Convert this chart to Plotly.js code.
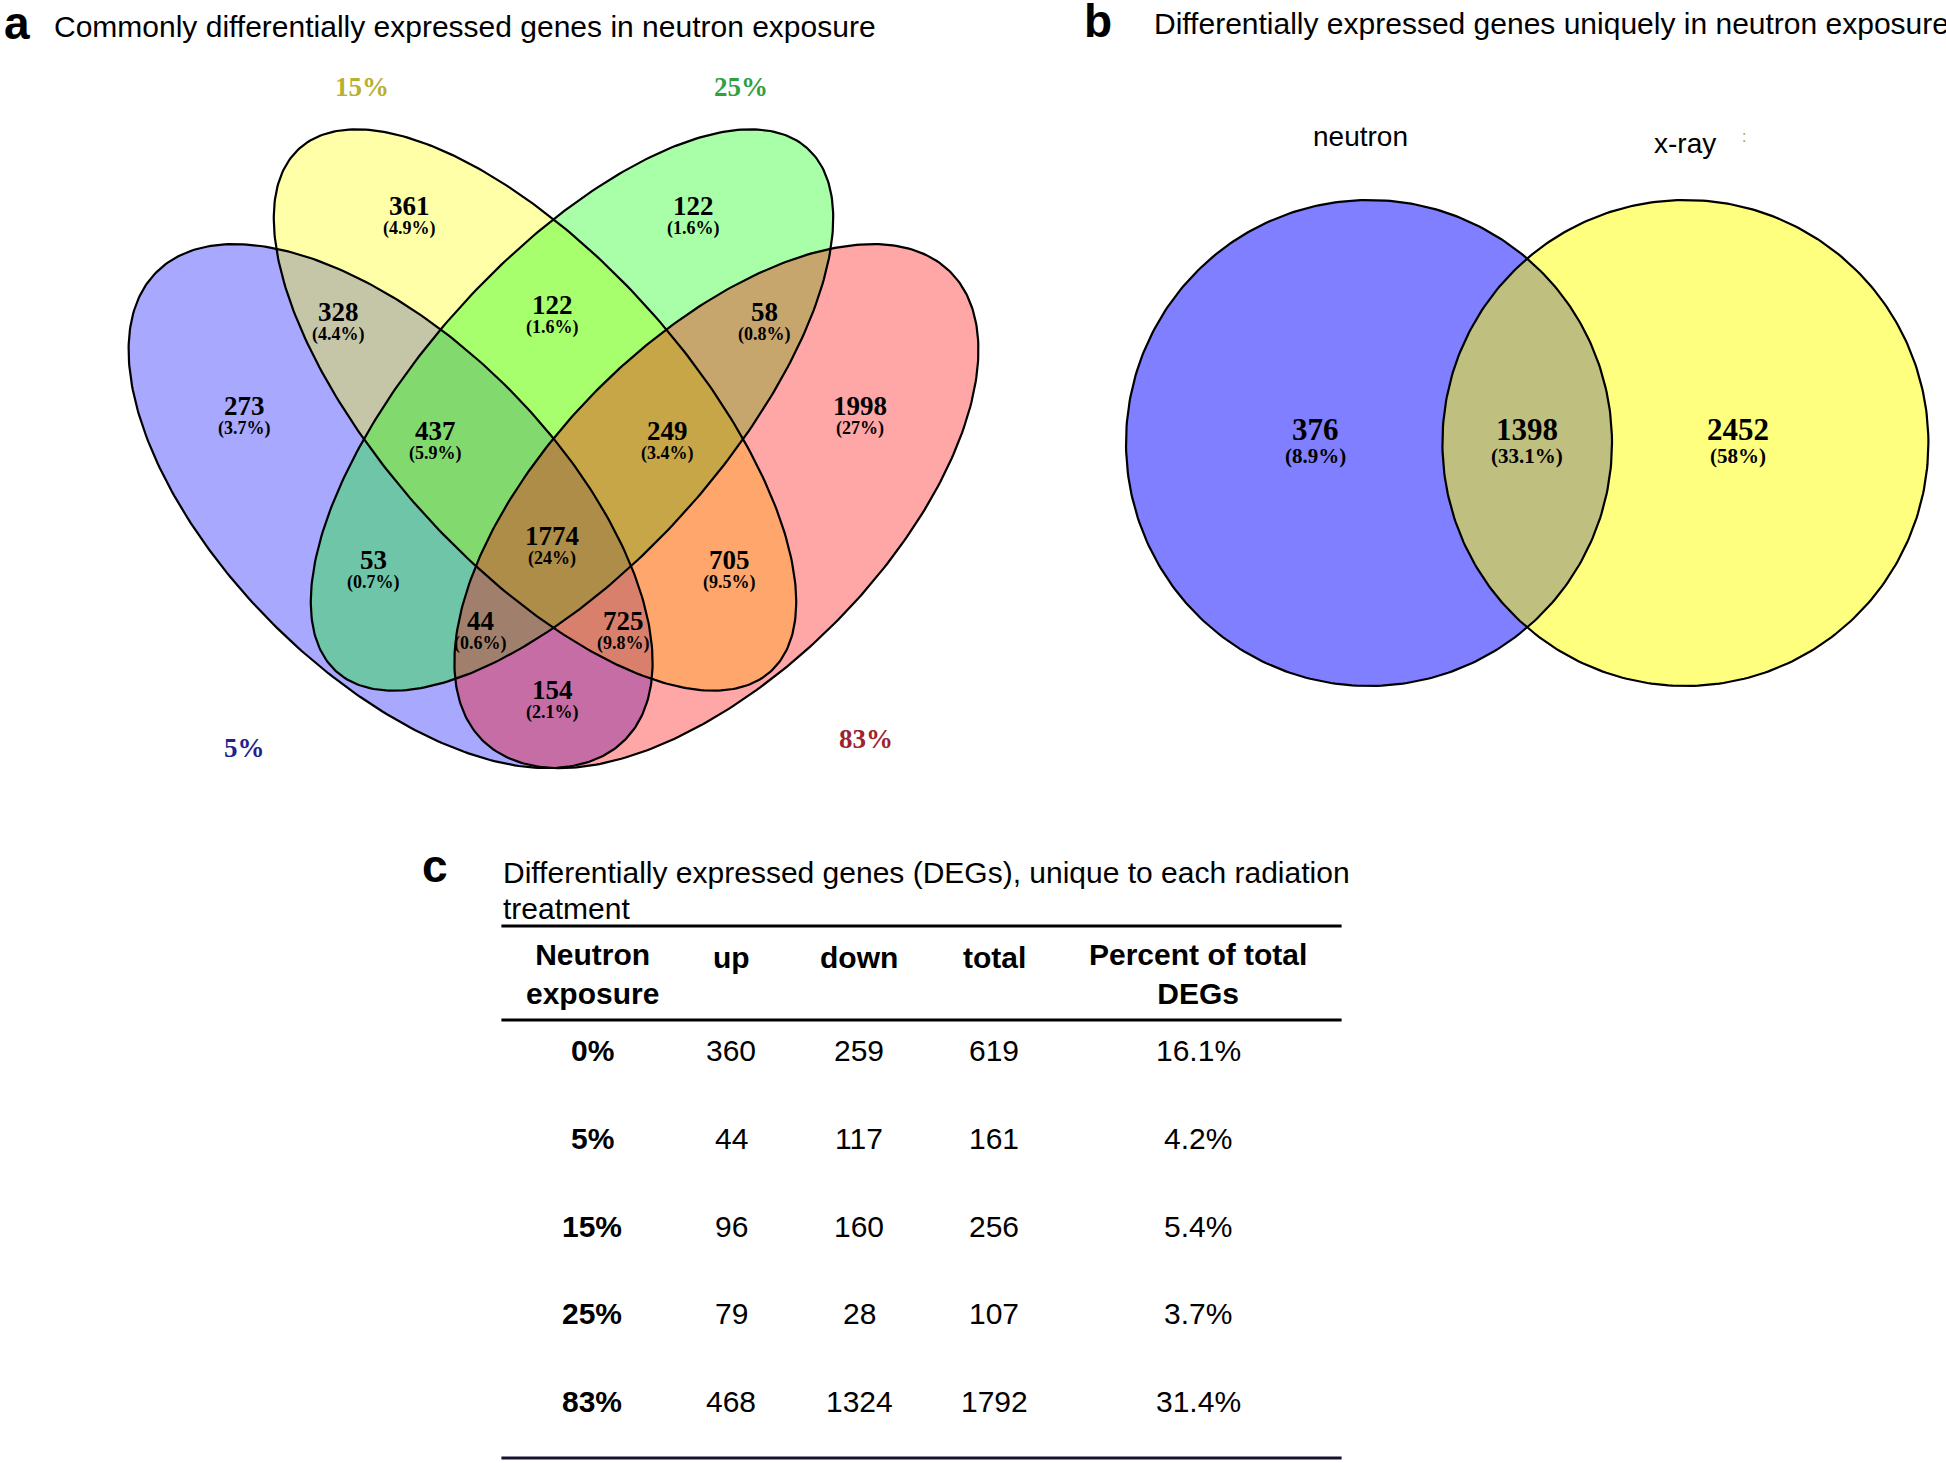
<!DOCTYPE html>
<html><head><meta charset="utf-8">
<script src="https://cdn.plot.ly/plotly-3.0.1.min.js"></script>
<style>html,body{margin:0;padding:0;background:#fff;} #chart{width:1946px;height:1463px;}</style>
</head><body><div id="chart"></div>
<script>
// ---------- DATA ----------
// Panel a: four-set Venn (neutron exposure levels)
const setNames = ['5%', '15%', '25%', '83%'];
const regionCounts = [361, 122, 328, 122, 58, 273, 437, 249, 1998, 1774, 53, 705, 44, 725, 154];
const regionPercents = ['4.9%', '1.6%', '4.4%', '1.6%', '0.8%', '3.7%', '5.9%', '3.4%', '27%', '24%', '0.7%', '9.5%', '0.6%', '9.8%', '2.1%'];
// Panel b: two-set Venn
const bSetNames = ['neutron', 'x-ray'];
const bCounts = [376, 1398, 2452];
const bPercents = ['8.9%', '33.1%', '58%'];
// Panel c: table
const tableHeaders = ['Neutron<br>exposure', 'up', 'down', 'total', 'Percent of total<br>DEGs'];
const exposure = ['0%', '5%', '15%', '25%', '83%'];
const upCounts = [360, 44, 96, 79, 468];
const downCounts = [259, 117, 160, 28, 1324];
const totalCounts = [619, 161, 256, 107, 1792];
const percentTotal = ['16.1%', '4.2%', '5.4%', '3.7%', '31.4%'];
// Titles
const titleA = 'Commonly differentially expressed genes in neutron exposure';
const titleB = 'Differentially expressed genes uniquely in neutron exposure';
const titleC1 = 'Differentially expressed genes (DEGs), unique to each radiation';
const titleC2 = 'treatment';

// ---------- GEOMETRY / STYLE ----------
const W = 1946, H = 1463;
const ellipsesA = [
  {cx: 390.6, cy: 506.1, a: 331, b: 166.5, deg: 45, fill: 'rgba(0,0,255,0.34)'},
  {cx: 535, cy: 410, a: 352, b: 152, deg: 48, fill: 'rgba(255,255,0,0.34)'},
  {cx: 572, cy: 410, a: 352, b: 152, deg: -48, fill: 'rgba(0,255,0,0.34)'},
  {cx: 716.4, cy: 506.1, a: 331, b: 166.5, deg: -45, fill: 'rgba(255,0,0,0.35)'}
];
const circlesB = [
  {cx: 1369, cy: 443, r: 243, fill: 'rgba(0,0,255,0.5)'},
  {cx: 1685.4, cy: 443, r: 243, fill: 'rgba(255,255,0,0.5)'}
];
const regionPos = [[409.6,206],[693.8,206],[338.8,311.5],[552.3,305.3],[764.5,311.5],[244.5,405.8],[435.6,430.7],[667.7,430.7],[860.1,405.8],[552.3,536.2],[373.6,559.7],[729.8,559.7],[480.3,620.6],[623,620.6],[552.3,690]];
const setLabelPos = [[244.5,748.4],[362.4,86.9],[740.9,86.9],[866.3,738.5]];
const setLabelColors = ['#23238c', '#b8b030', '#33a040', '#9c2430'];
const bNumPos = [[1315.6,429.5],[1526.6,429.5],[1737.5,429.5]];
const bSetPos = [[1360,136],[1685,143]];
const colCenters = [592, 731, 859, 994, 1198];
const headerY = [974, 957, 957, 957, 974];
const rowY = [1050, 1138, 1226, 1313, 1401];

function ellipsePts(e) {
  const th = e.deg * Math.PI / 180, xs = [], ys = [];
  for (let i = 0; i <= 360; i++) {
    const t = 2 * Math.PI * i / 360;
    xs.push(e.cx + e.a * Math.cos(t) * Math.cos(th) - e.b * Math.sin(t) * Math.sin(th));
    ys.push(e.cy + e.a * Math.cos(t) * Math.sin(th) + e.b * Math.sin(t) * Math.cos(th));
  }
  return [xs, ys];
}

const traces = [];
const outlines = ellipsesA.map(e => ellipsePts(e)).concat(circlesB.map(c => ellipsePts({cx: c.cx, cy: c.cy, a: c.r, b: c.r, deg: 0})));
const fills = ellipsesA.map(e => e.fill).concat(circlesB.map(c => c.fill));
outlines.forEach((p, i) => {
  traces.push({type: 'scatter', mode: 'lines', x: p[0], y: p[1], fill: 'toself', fillcolor: fills[i], line: {width: 0}, hoverinfo: 'skip'});
});
outlines.forEach((p) => {
  traces.push({type: 'scatter', mode: 'lines', x: p[0], y: p[1], line: {color: '#000', width: 2.2}, hoverinfo: 'skip'});
});

const serif = 'Liberation Serif, Times New Roman, serif';
const sans = 'Liberation Sans, Arial, sans-serif';
const ann = [];
function txt(x, y, text, size, opts) {
  ann.push(Object.assign({x: x, y: y, xref: 'x', yref: 'y', text: text, showarrow: false,
    xanchor: 'center', yanchor: 'middle', font: {family: sans, size: size, color: '#000'}}, opts || {}));
}
// Panel letters and titles
txt(2, 23, '<b>a</b>', 46, {xanchor: 'left'});
txt(52, 26, titleA, 30, {xanchor: 'left'});
txt(1082, 21, '<b>b</b>', 46, {xanchor: 'left'});
txt(1152, 23, titleB, 30, {xanchor: 'left'});
txt(420, 866, '<b>c</b>', 46, {xanchor: 'left'});
txt(501, 872, titleC1, 30, {xanchor: 'left'});
txt(501, 908, titleC2, 30, {xanchor: 'left'});
// Panel a region labels
regionCounts.forEach((c, i) => {
  txt(regionPos[i][0], regionPos[i][1], '<b>' + c + '</b>', 27, {font: {family: serif, size: 27, color: '#000'}});
  txt(regionPos[i][0], regionPos[i][1] + 22.5, '<b>(' + regionPercents[i] + ')</b>', 18, {font: {family: serif, size: 18, color: '#000'}});
});
setNames.forEach((s, i) => {
  txt(setLabelPos[i][0], setLabelPos[i][1], '<b>' + s + '</b>', 27, {font: {family: serif, size: 27, color: setLabelColors[i]}});
});
// Panel b labels
bCounts.forEach((c, i) => {
  txt(bNumPos[i][0], bNumPos[i][1], '<b>' + c + '</b>', 31, {font: {family: serif, size: 31, color: '#000'}});
  txt(bNumPos[i][0], bNumPos[i][1] + 26.5, '<b>(' + bPercents[i] + ')</b>', 21, {font: {family: serif, size: 21, color: '#000'}});
});
bSetNames.forEach((s, i) => txt(bSetPos[i][0], bSetPos[i][1], s, 28));
txt(1744, 136, ':', 16, {font: {family: sans, size: 16, color: '#a8a820'}});

// Panel c table (header + cells)
tableHeaders.forEach((h, j) => txt(colCenters[j], headerY[j], '<b>' + h + '</b>', 30, {align: 'center'}));
const columns = [exposure.map(v => '<b>' + v + '</b>'), upCounts, downCounts, totalCounts, percentTotal];
columns.forEach((col, j) => {
  col.forEach((v, r) => txt(colCenters[j], rowY[r], String(v), 30));
});

// Table rules
const rules = [926, 1020, 1458].map((y, i) => ({type: 'line', xref: 'x', yref: 'y', x0: 501.4, x1: 1341.6, y0: y, y1: y,
  line: {color: i === 2 ? '#141430' : '#000', width: 3}}));

const layout = {
  width: W, height: H, margin: {l: 0, r: 0, t: 0, b: 0},
  paper_bgcolor: '#fff', plot_bgcolor: 'rgba(0,0,0,0)', showlegend: false,
  xaxis: {range: [0, W], visible: false, fixedrange: true},
  yaxis: {range: [H, 0], visible: false, fixedrange: true},
  annotations: ann, shapes: rules
};
Plotly.newPlot('chart', traces, layout, {displayModeBar: false, staticPlot: true});
</script></body></html>
